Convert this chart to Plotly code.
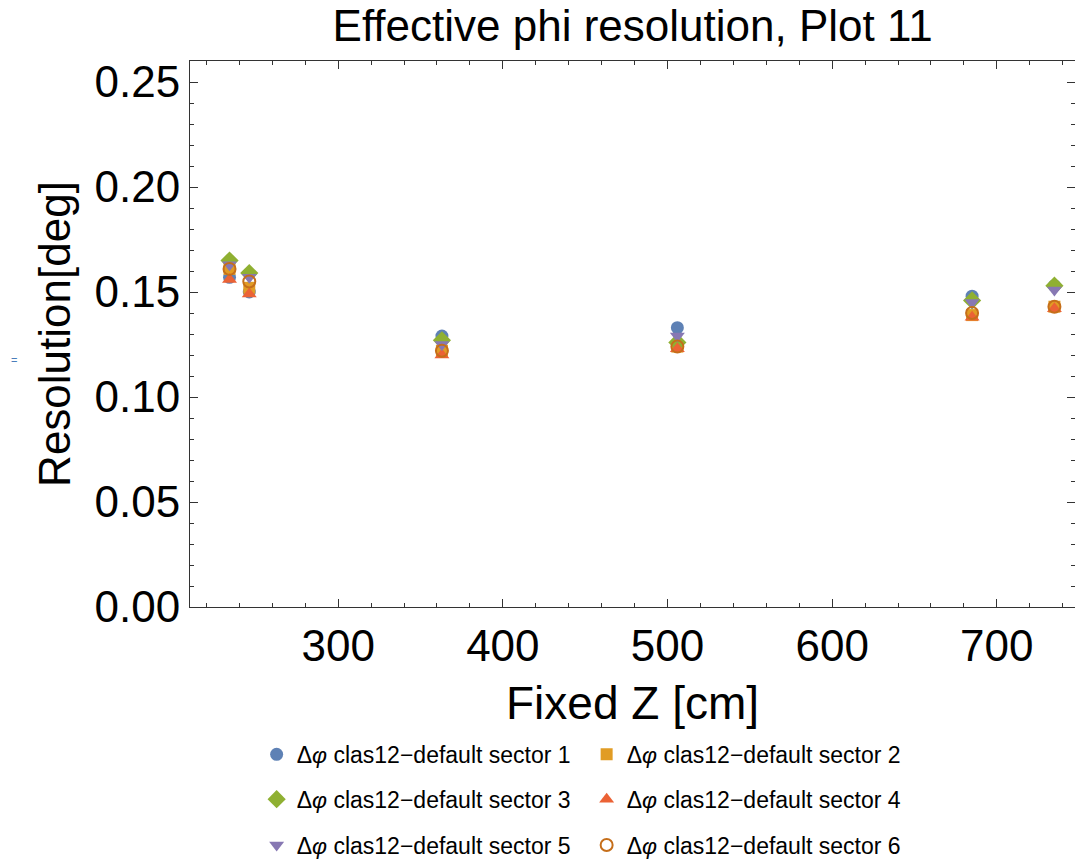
import plotly.graph_objects as go

z = [234, 246, 363, 506, 685, 735]
sector1 = [0.157, 0.150, 0.129, 0.133, 0.148, 0.153]
sector2 = [0.161, 0.152, 0.122, 0.124, 0.139, 0.143]
sector3 = [0.165, 0.159, 0.127, 0.126, 0.146, 0.153]
sector4 = [0.156, 0.149, 0.120, 0.123, 0.138, 0.142]
sector5 = [0.163, 0.157, 0.125, 0.129, 0.145, 0.151]
sector6 = [0.161, 0.155, 0.122, 0.124, 0.140, 0.143]

names = ["Δ<i>φ</i> clas12−default sector %d" % i for i in range(1, 7)]
series = [sector1, sector2, sector3, sector4, sector5, sector6]
colors = ["#5E81B5", "#E19C24", "#8FB032", "#EB6235", "#8778B3", "#C56E1A"]
symbols = ["circle", "square", "diamond", "triangle-up", "triangle-down", "circle-open"]
sizes = [13, 12, 14, 13, 13, 12]
legend_ids = ["legend", "legend", "legend2", "legend2", "legend3", "legend3"]

FONT = "Liberation Sans, Arial, sans-serif"

fig = go.Figure()
for name, ys, c, s, sz, lg in zip(names, series, colors, symbols, sizes, legend_ids):
    marker = dict(color=c, symbol=s, size=sz)
    if s == "circle-open":
        marker["line"] = dict(color=c, width=2)
    fig.add_trace(go.Scatter(x=z, y=ys, mode="markers", name=name, marker=marker, legend=lg))

axis_common = dict(
    showline=True, linecolor="#333333", linewidth=1, mirror="allticks",
    ticks="inside", ticklen=8, tickwidth=1, tickcolor="#333333",
    showgrid=False, zeroline=False,
    tickfont=dict(family=FONT, size=44, color="black"),
)

def legend_row(ypos):
    return dict(orientation="h", x=0.0753, xanchor="left", y=ypos, yanchor="middle",
                entrywidth=285, entrywidthmode="pixels",
                font=dict(family=FONT, size=23, color="black"),
                bgcolor="rgba(0,0,0,0)")

fig.update_layout(
    width=1075, height=867,
    margin=dict(l=190, r=0, t=61, b=258),
    paper_bgcolor="white", plot_bgcolor="white",
    title=dict(text="Effective phi resolution, Plot 11", x=0.5885, xanchor="center",
               y=0.9705, yanchor="middle",
               font=dict(family=FONT, size=44, color="black")),
    xaxis=dict(range=[210, 747.5], tickvals=[300, 400, 500, 600, 700],
               minor=dict(dtick=20, tick0=0, ticks="inside", ticklen=4, tickcolor="#333333"),
               title=dict(text="Fixed Z [cm]", font=dict(family=FONT, size=46, color="black"), standoff=18),
               **axis_common),
    yaxis=dict(range=[0, 0.26], tickvals=[0, 0.05, 0.10, 0.15, 0.20, 0.25], tickformat=".2f",
               minor=dict(dtick=0.01, tick0=0, ticks="inside", ticklen=4, tickcolor="#333333"),
               title=dict(text="Resolution[deg]", font=dict(family=FONT, size=44, color="black"), standoff=10),
               **axis_common),
    showlegend=True,
    legend=legend_row(-0.270),
    legend2=legend_row(-0.352),
    legend3=legend_row(-0.436),
    annotations=[dict(text="=", x=-0.205, y=0.4526, xref="paper", yref="paper",
                      showarrow=False, font=dict(family=FONT, size=11, color="#4a7ebb"))],
)

fig.write_html("out.html")
